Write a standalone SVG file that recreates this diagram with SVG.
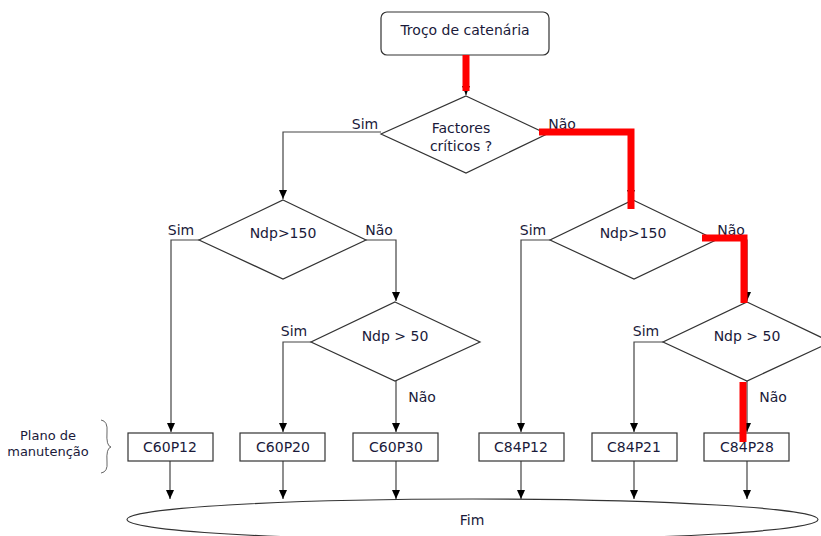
<svg xmlns="http://www.w3.org/2000/svg" width="821" height="536" viewBox="0 0 821 536">
<style>
text{font-family:"DejaVu Sans",Verdana,sans-serif;font-size:14px;fill:#1a1a3a}
.c{text-anchor:middle}
.ln{fill:none;stroke:#444;stroke-width:1.2}
.sh{fill:#fff;stroke:#333;stroke-width:1.2}
.red{fill:none;stroke:#ff0000;stroke-width:7;stroke-linecap:butt}
</style>
<defs>
<marker id="ah" markerWidth="10" markerHeight="10" refX="9" refY="5" orient="auto" markerUnits="userSpaceOnUse">
<path d="M0,1 L9,5 L0,9 Z" fill="#000"/>
</marker>
</defs>
<rect width="821" height="536" fill="#fff"/>

<g id="connectors">
<line class="ln" x1="466" y1="55" x2="466" y2="95" marker-end="url(#ah)"/>
<polyline class="ln" points="381,132 283,132 283,199" marker-end="url(#ah)"/>
<polyline class="ln" points="547,132 631,132 631,199" marker-end="url(#ah)"/>
<polyline class="ln" points="199,240 171,240 171,432" marker-end="url(#ah)"/>
<polyline class="ln" points="366,240 396,240 396,301" marker-end="url(#ah)"/>
<polyline class="ln" points="311,342 283,342 283,432" marker-end="url(#ah)"/>
<line class="ln" x1="396" y1="381" x2="396" y2="432" marker-end="url(#ah)"/>
<polyline class="ln" points="550,240 521,240 521,432" marker-end="url(#ah)"/>
<polyline class="ln" points="716,240 747,240 747,301" marker-end="url(#ah)"/>
<polyline class="ln" points="663,342 634,342 634,432" marker-end="url(#ah)"/>
<line class="ln" x1="747" y1="381" x2="747" y2="432" marker-end="url(#ah)"/>
<line class="ln" x1="170" y1="461" x2="170" y2="499" marker-end="url(#ah)"/>
<line class="ln" x1="283" y1="461" x2="283" y2="499" marker-end="url(#ah)"/>
<line class="ln" x1="396" y1="461" x2="396" y2="499" marker-end="url(#ah)"/>
<line class="ln" x1="521" y1="461" x2="521" y2="499" marker-end="url(#ah)"/>
<line class="ln" x1="634" y1="461" x2="634" y2="499" marker-end="url(#ah)"/>
<line class="ln" x1="747" y1="461" x2="747" y2="499" marker-end="url(#ah)"/>
<text x="365" y="129" class="c">Sim</text>
<text x="562" y="129" class="c">Não</text>
<text x="181" y="235" class="c">Sim</text>
<text x="379" y="235" class="c">Não</text>
<text x="533" y="235" class="c">Sim</text>
<text x="731" y="235" class="c">Não</text>
<text x="294" y="336" class="c">Sim</text>
<text x="646" y="336" class="c">Sim</text>
<text x="422" y="402" class="c">Não</text>
<text x="773" y="402" class="c">Não</text>
</g>

<g id="start">
<rect x="381" y="12" width="168" height="43" rx="6" class="sh"/>
<text x="465" y="35" class="c">Troço de catenária</text>
</g>
<g id="d1">
<polygon points="466,96 547,134 466,173 381,134" class="sh"/>
<text x="461" y="133" class="c">Factores</text>
<text x="461" y="151" class="c">críticos ?</text>
</g>
<g id="d2">
<polygon points="283,200 366,240 283,279 199,240" class="sh"/>
<text x="283" y="238" class="c">Ndp&gt;150</text>
</g>
<g id="d3">
<polygon points="395,302 480,342 395,381 311,342" class="sh"/>
<text x="395" y="341" class="c">Ndp &gt; 50</text>
</g>
<g id="d4">
<polygon points="633,200 716,240 634,279 550,240" class="sh"/>
<text x="633" y="238" class="c">Ndp&gt;150</text>
</g>
<g id="d5">
<polygon points="747,302 831,342 747,381 663,342" class="sh"/>
<text x="747" y="341" class="c">Ndp &gt; 50</text>
</g>

<g id="b1"><rect x="128" y="433" width="85" height="28" class="sh"/><text x="170" y="452" class="c">C60P12</text></g>
<g id="b2"><rect x="240" y="433" width="85" height="28" class="sh"/><text x="283" y="452" class="c">C60P20</text></g>
<g id="b3"><rect x="353" y="433" width="85" height="28" class="sh"/><text x="396" y="452" class="c">C60P30</text></g>
<g id="b4"><rect x="479" y="433" width="85" height="28" class="sh"/><text x="521" y="452" class="c">C84P12</text></g>
<g id="b5"><rect x="592" y="433" width="85" height="28" class="sh"/><text x="634" y="452" class="c">C84P21</text></g>
<g id="b6"><rect x="704" y="433" width="85" height="28" class="sh"/><text x="747" y="452" class="c">C84P28</text></g>

<g id="fim">
<ellipse cx="472.5" cy="519.5" rx="345.5" ry="20.5" fill="none" stroke="#333" stroke-width="1.2"/>
<text x="472" y="525" class="c">Fim</text>
</g>

<g id="label">
<text x="48" y="440" class="c" style="font-size:13px">Plano de</text>
<text x="48" y="456" class="c" style="font-size:13px">manutenção</text>
<path d="M101,420 Q108,421 107,432 Q106,446 111,447 Q106,448 107,462 Q108,472 101,473" fill="none" stroke="#666" stroke-width="1"/>
</g>

<g id="highlight">
<polyline class="red" points="466,55 466,91"/>
<polyline class="red" points="539,132 631,132 631,209"/>
<polyline class="red" points="702,238 744,238 744,303"/>
<polyline class="red" points="743,382 743,442"/>
</g>
</svg>
